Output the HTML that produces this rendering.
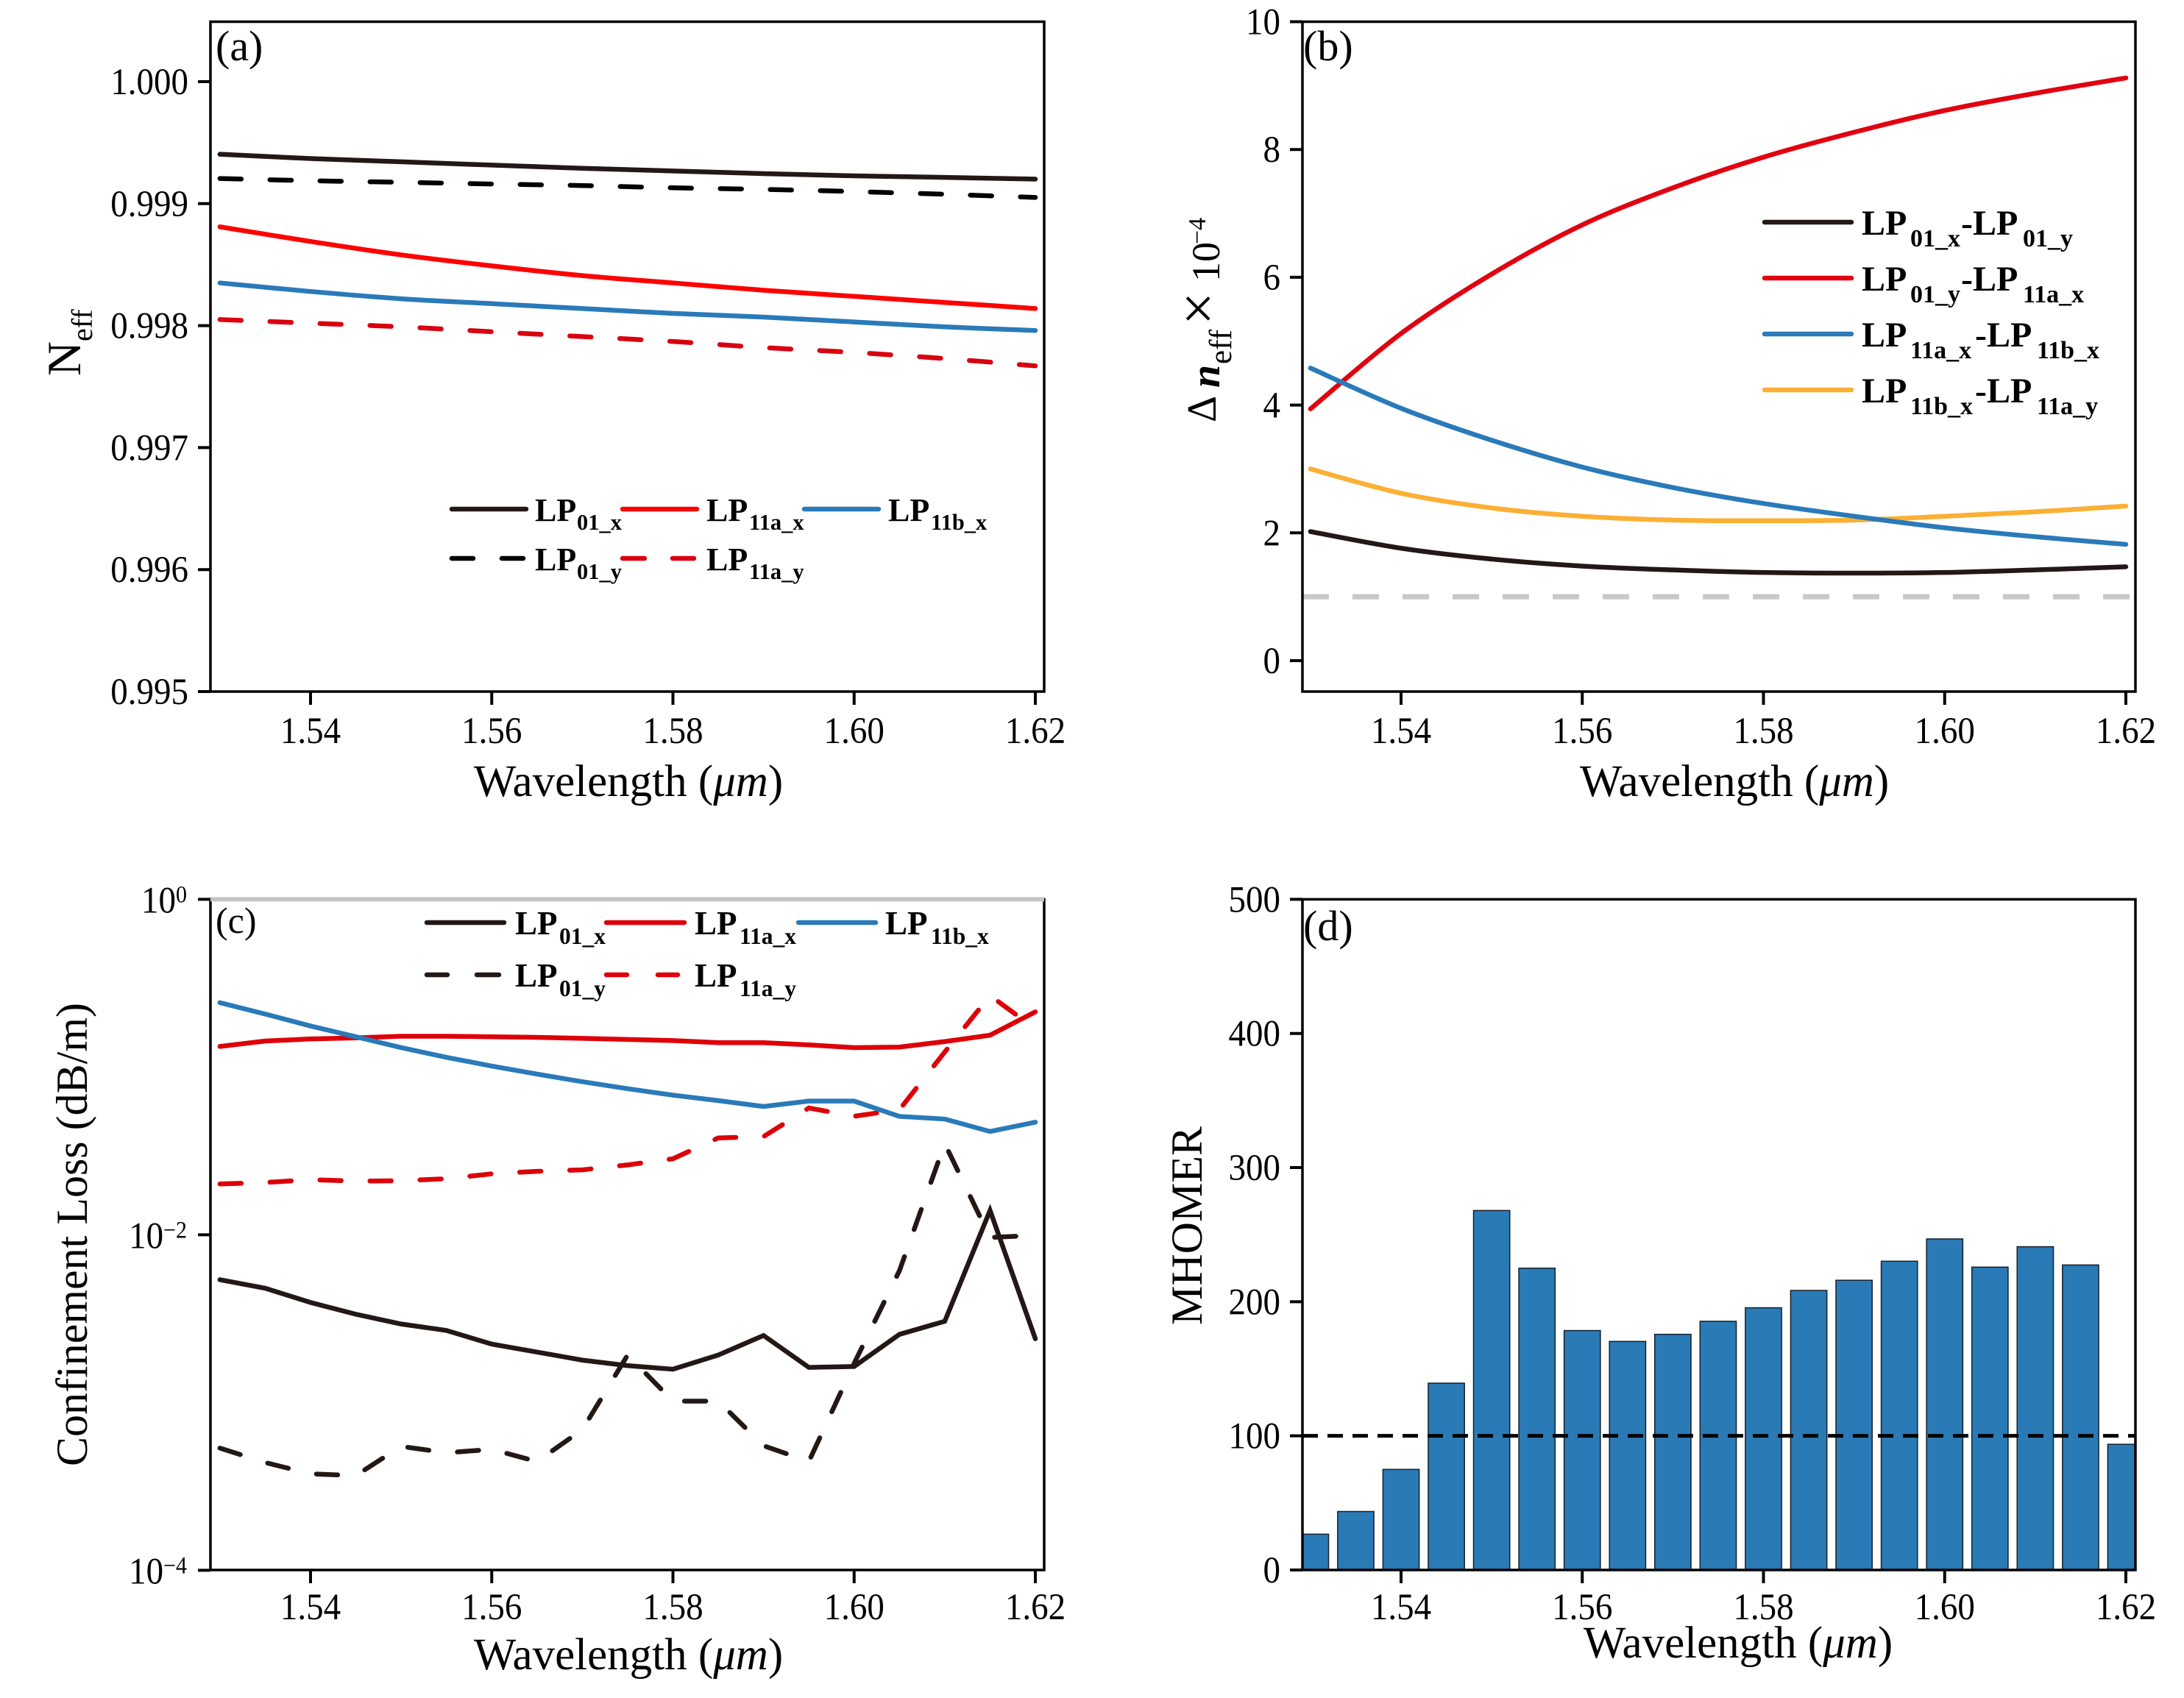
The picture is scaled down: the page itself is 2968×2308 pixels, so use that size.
<!DOCTYPE html>
<html lang="en">
<head>
<meta charset="utf-8">
<title>Fiber mode characteristics versus wavelength</title>
<style>
html,body{margin:0;padding:0;background:#fff;}
svg{display:block;}
text{font-family:"Liberation Serif","DejaVu Serif",serif;fill:#000;}
.leg{font-weight:bold;}
</style>
</head>
<body>
<svg id="chart" xmlns="http://www.w3.org/2000/svg" width="2968" height="2308" viewBox="0 0 2968 2308">
  <rect x="0" y="0" width="2968" height="2308" fill="#ffffff"/>
  <defs>
    <clipPath id="clip-c"><rect x="286" y="1222" width="1132" height="912"/></clipPath>
    <clipPath id="clip-d"><rect x="1770" y="1222" width="1132" height="912"/></clipPath>
  </defs>
  <g id="panel-a"></g>
  <g id="panel-b"></g>
  <g id="panel-c"></g>
  <g id="panel-d"></g>

  <!-- Panel tags -->
  <text x="293" y="82" font-size="58">(a)</text>
  <text x="1771" y="82" font-size="58">(b)</text>
  <text x="293" y="1268" font-size="50">(c)</text>
  <text x="1771" y="1278" font-size="58">(d)</text>

  <!-- Axis titles -->
  <text x="854" y="1082" font-size="61" text-anchor="middle">Wavelength (<tspan font-style="italic">μm</tspan>)</text>
  <text x="2357" y="1082" font-size="61" text-anchor="middle">Wavelength (<tspan font-style="italic">μm</tspan>)</text>
  <text x="854" y="2269" font-size="61" text-anchor="middle">Wavelength (<tspan font-style="italic">μm</tspan>)</text>
  <text x="2362" y="2253" font-size="61" text-anchor="middle">Wavelength (<tspan font-style="italic">μm</tspan>)</text>

  <text transform="translate(109,511) rotate(-90)" font-size="65">N<tspan font-size="40" dy="16">eff</tspan></text>
  <g>
    <text transform="translate(1652,574) rotate(-90)" font-size="56">Δ</text>
    <text transform="translate(1657,527) rotate(-90)" font-size="56" font-weight="bold" font-style="italic">n</text>
    <text transform="translate(1673,495) rotate(-90)" font-size="43">eff</text>
    <text transform="translate(1655,442) rotate(-90)" font-size="80">×</text>
    <text transform="translate(1657,383) rotate(-90)" font-size="54">10</text>
    <text transform="translate(1638,332) rotate(-90)" font-size="34">−4</text>
  </g>
  <text transform="translate(118,1678) rotate(-90)" font-size="60" text-anchor="middle">Confinement Loss (dB/m)</text>
  <text transform="translate(1633,1666) rotate(-90)" font-size="60" text-anchor="middle">MHOMER</text>

  <!-- Legend panel a -->
  <g stroke-width="6.5" stroke-linecap="round" fill="none">
    <line x1="614" y1="692" x2="715" y2="692" stroke="#231815"/>
    <line x1="846" y1="692" x2="947" y2="692" stroke="#ff0000"/>
    <line x1="1093" y1="692" x2="1194" y2="692" stroke="#2a7ab9"/>
    <path d="M614 759H643M682 759H711" stroke="#000000"/>
    <path d="M846 759H876M914 759H943" stroke="#d9000f"/>
    <g stroke="none">
      <text class="leg" x="727" y="708" font-size="44">LP<tspan x="784" y="720" font-size="30.5">01_x</tspan></text>
      <text class="leg" x="960" y="708" font-size="44">LP<tspan x="1018" y="720" font-size="30.5">11a_x</tspan></text>
      <text class="leg" x="1207" y="708" font-size="44">LP<tspan x="1265" y="720" font-size="30.5">11b_x</tspan></text>
      <text class="leg" x="727" y="775" font-size="44">LP<tspan x="784" y="787" font-size="30.5">01_y</tspan></text>
      <text class="leg" x="960" y="775" font-size="44">LP<tspan x="1018" y="787" font-size="30.5">11a_y</tspan></text>
    </g>
  </g>

  <!-- Legend panel b -->
  <g stroke-width="6.5" stroke-linecap="round" fill="none">
    <line x1="2398" y1="302" x2="2516" y2="302" stroke="#231815"/>
    <line x1="2398" y1="378" x2="2516" y2="378" stroke="#e00010"/>
    <line x1="2398" y1="454" x2="2516" y2="454" stroke="#2a7ab9"/>
    <line x1="2398" y1="530" x2="2516" y2="530" stroke="#fbb034"/>
    <g stroke="none">
      <text class="leg" x="2530" y="319" font-size="48">LP<tspan x="2596" y="335" font-size="34">01_x</tspan><tspan x="2665" y="319" font-size="48">-LP</tspan><tspan x="2749" y="335" font-size="34">01_y</tspan></text>
      <text class="leg" x="2530" y="395" font-size="48">LP<tspan x="2596" y="411" font-size="34">01_y</tspan><tspan x="2665" y="395" font-size="48">-LP</tspan><tspan x="2749" y="411" font-size="34">11a_x</tspan></text>
      <text class="leg" x="2530" y="471" font-size="48">LP<tspan x="2596" y="487" font-size="34">11a_x</tspan><tspan x="2684" y="471" font-size="48">-LP</tspan><tspan x="2768" y="487" font-size="34">11b_x</tspan></text>
      <text class="leg" x="2530" y="547" font-size="48">LP<tspan x="2596" y="563" font-size="34">11b_x</tspan><tspan x="2684" y="547" font-size="48">-LP</tspan><tspan x="2768" y="563" font-size="34">11a_y</tspan></text>
    </g>
  </g>

  <!-- Legend panel c -->
  <g stroke-width="6.5" stroke-linecap="round" fill="none">
    <line x1="580" y1="1254" x2="685" y2="1254" stroke="#231815"/>
    <line x1="824" y1="1254" x2="930" y2="1254" stroke="#dd0008"/>
    <line x1="1085" y1="1254" x2="1190" y2="1254" stroke="#2a7ab9"/>
    <path d="M580 1325H608M648 1325H678" stroke="#231815"/>
    <path d="M824 1325H852M894 1325H921" stroke="#dd0008"/>
    <g stroke="none">
      <text class="leg" x="700" y="1270" font-size="45">LP<tspan x="760" y="1283" font-size="31.5">01_x</tspan></text>
      <text class="leg" x="944" y="1270" font-size="45">LP<tspan x="1005" y="1283" font-size="31.5">11a_x</tspan></text>
      <text class="leg" x="1203" y="1270" font-size="45">LP<tspan x="1265" y="1283" font-size="31.5">11b_x</tspan></text>
      <text class="leg" x="700" y="1341" font-size="45">LP<tspan x="760" y="1354" font-size="31.5">01_y</tspan></text>
      <text class="leg" x="944" y="1341" font-size="45">LP<tspan x="1005" y="1354" font-size="31.5">11a_y</tspan></text>
    </g>
  </g>
</svg>

<script>
// Shared categories and tick labels
const coarseWavelengths = [1.53,1.54,1.55,1.56,1.57,1.58,1.59,1.60,1.61,1.62];
const fineWavelengths = [1.53,1.535,1.54,1.545,1.55,1.555,1.56,1.565,1.57,1.575,1.58,1.585,1.59,1.595,1.60,1.605,1.61,1.615,1.62];
const xTicks = [1.54,1.56,1.58,1.60,1.62];

// Panel (a) effective index
const aTicks = [0.995,0.996,0.997,0.998,0.999,1.000];
const aLP01x = [0.999405,0.999370,0.999343,0.999316,0.999290,0.999268,0.999246,0.999228,0.999215,0.999201];
const aLP01y = [0.999206,0.999188,0.999175,0.999161,0.999148,0.999130,0.999117,0.999099,0.999077,0.999051];
const aLP11ax = [0.99881,0.99869,0.99858,0.99849,0.99841,0.99835,0.99829,0.99824,0.99819,0.99814];
const aLP11bx = [0.99835,0.99828,0.99822,0.99818,0.99814,0.99810,0.99807,0.99803,0.99799,0.99796];
const aLP11ay = [0.99805,0.99802,0.99799,0.99795,0.99791,0.99787,0.99782,0.99778,0.99773,0.99767];

// Panel (b) index differences (x 10^-4)
const bTicks = [0,2,4,6,8,10];
const bThreshold = [1];
const bPair1 = [2.02,1.76,1.59,1.48,1.42,1.38,1.37,1.38,1.42,1.47];
const bPair2 = [3.94,5.12,6.05,6.82,7.40,7.88,8.27,8.61,8.88,9.12];
const bPair3 = [4.58,3.95,3.45,3.03,2.71,2.46,2.26,2.08,1.94,1.82];
const bPair4 = [3.00,2.62,2.39,2.26,2.20,2.19,2.20,2.26,2.33,2.42];

// Panel (c) confinement loss
const cTickExponents = [0,-2,-4];
const cThreshold = [1];
const cLP01x = [0.00540,0.00480,0.00395,0.00336,0.00294,0.00269,0.00223,0.00200,0.00179,0.00166,0.00158,0.00192,0.00251,0.00162,0.00164,0.00255,0.00305,0.01397,0.00240];
const cLP01y = [0.000535,0.000439,0.000376,0.000367,0.000548,0.000502,0.000526,0.000445,0.000689,0.00192,0.00102,0.00102,0.000553,0.000445,0.00171,0.00611,0.035,0.00964,0.00993];
const cLP11ax = [0.1327,0.1429,0.1472,0.1493,0.1527,0.1527,0.1516,0.1504,0.1483,0.1461,0.1439,0.1397,0.1397,0.1356,0.1306,0.1316,0.1419,0.1549,0.2133];
const cLP11bx = [0.2421,0.2070,0.1758,0.1516,0.1306,0.1143,0.1014,0.0908,0.0818,0.0743,0.0680,0.0631,0.0582,0.0627,0.0627,0.0508,0.0490,0.0413,0.0469];
const cLP11ay = [0.0201,0.0205,0.0213,0.0209,0.0210,0.0216,0.0231,0.0239,0.0244,0.0261,0.0284,0.0378,0.0385,0.0570,0.0509,0.0557,0.1229,0.2667,0.1694];

// Panel (d) MHOMER
const dTicks = [0,100,200,300,400,500];
const dThreshold = [100];
const dValues = [26.7,43.6,75,139.3,268,225,178.5,170.4,175.7,185.4,195.5,208.4,216,230.2,246.8,225.8,241,227.4,93.7];

const NS = 'http://www.w3.org/2000/svg';

function mk(parent, tag, attrs, content) {
  const el = document.createElementNS(NS, tag);
  for (const k in attrs) el.setAttribute(k, attrs[k]);
  if (content !== undefined) el.textContent = content;
  parent.appendChild(el);
  return el;
}

function linear(d0, d1, r0, r1) {
  return v => r0 + (v - d0) / (d1 - d0) * (r1 - r0);
}

// Axis functions
const xLeft = linear(1.54, 1.62, 422, 1407);
const xRight = linear(1.54, 1.62, 1904, 2889);
const yA = linear(0.995, 1.0, 940, 111);
const yB = linear(0, 10, 898, 29.5);
const yC = v => 1222.4 - Math.log10(v) * 228;
const yD = linear(0, 500, 2134, 1222.4);

function smoothPath(pts) {
  let d = 'M' + pts[0][0].toFixed(2) + ' ' + pts[0][1].toFixed(2);
  for (let i = 0; i < pts.length - 1; i++) {
    const p0 = pts[Math.max(i - 1, 0)], p1 = pts[i], p2 = pts[i + 1], p3 = pts[Math.min(i + 2, pts.length - 1)];
    const c1x = p1[0] + (p2[0] - p0[0]) / 6, c1y = p1[1] + (p2[1] - p0[1]) / 6;
    const c2x = p2[0] - (p3[0] - p1[0]) / 6, c2y = p2[1] - (p3[1] - p1[1]) / 6;
    d += 'C' + c1x.toFixed(2) + ' ' + c1y.toFixed(2) + ' ' + c2x.toFixed(2) + ' ' + c2y.toFixed(2) + ' ' + p2[0].toFixed(2) + ' ' + p2[1].toFixed(2);
  }
  return d;
}

function polyPath(pts) {
  return pts.map((p, i) => (i ? 'L' : 'M') + p[0].toFixed(2) + ' ' + p[1].toFixed(2)).join('');
}

function drawSeries(group, xs, ys, xFn, yFn, color, dashed, smooth, seriesName, width) {
  const pts = xs.map((x, i) => [xFn(x), yFn(ys[i])]);
  const attrs = {
    d: smooth ? smoothPath(pts) : polyPath(pts),
    fill: 'none', stroke: color, 'stroke-width': width || 6.5,
    'stroke-linecap': 'round', 'stroke-linejoin': 'miter'
  };
  if (dashed) attrs['stroke-dasharray'] = '29 39';
  const el = mk(group, 'path', attrs);
  
  
}

function drawXTicks(group, xFn, bottom, labelY) {
  xTicks.forEach(t => {
    const tick = mk(group, 'line', {x1: xFn(t), x2: xFn(t), y1: bottom, y2: bottom + 18, stroke: '#000', 'stroke-width': 4});
    
    
    const label = mk(group, 'text', {transform: 'translate(' + xFn(t) + ',' + labelY + ') scale(1,1.08)', 'font-size': 47, 'text-anchor': 'middle'}, t.toFixed(2));
    
    
  });
}

function drawYTicks(group, ticks, yFn, left, fmt) {
  ticks.forEach(t => {
    const tick = mk(group, 'line', {x1: left - 17, x2: left, y1: yFn(t), y2: yFn(t), stroke: '#000', 'stroke-width': 4});
    
    
    const label = mk(group, 'text', {transform: 'translate(' + (left - 30) + ',' + (yFn(t) + 17) + ') scale(1,1.08)', 'font-size': 47, 'text-anchor': 'end'}, fmt(t));
    
    
  });
}

function drawFrame(group, x, y, w, h) {
  const frame = mk(group, 'rect', {x: x, y: y, width: w, height: h, fill: 'none', stroke: '#000', 'stroke-width': 3.5});
  
  
}

// Panel (a)
const gA = document.getElementById('panel-a');
drawSeries(gA, coarseWavelengths, aLP01x, xLeft, yA, '#231815', false, true, 'line-lp01x');
drawSeries(gA, coarseWavelengths, aLP01y, xLeft, yA, '#000000', true, true, 'line-lp01y');
drawSeries(gA, coarseWavelengths, aLP11ax, xLeft, yA, '#ff0000', false, true, 'line-lp11ax');
drawSeries(gA, coarseWavelengths, aLP11bx, xLeft, yA, '#2a7ab9', false, true, 'line-lp11bx');
drawSeries(gA, coarseWavelengths, aLP11ay, xLeft, yA, '#d9000f', true, true, 'line-lp11ay');
drawFrame(gA, 286, 29.5, 1133, 910.5);
drawXTicks(gA, xLeft, 940, 1010);
drawYTicks(gA, aTicks, yA, 286, t => t.toFixed(3));

// Panel (b)
const gB = document.getElementById('panel-b');
const thresholdB = mk(gB, 'line', {x1: 1770, x2: 2902, y1: yB(bThreshold[0]), y2: yB(bThreshold[0]), stroke: '#c8c8c8', 'stroke-width': 7, 'stroke-dasharray': '36 32'});


drawSeries(gB, coarseWavelengths, bPair2, xRight, yB, '#e00010', false, true, 'line-pair-2');
drawSeries(gB, coarseWavelengths, bPair4, xRight, yB, '#fbb034', false, true, 'line-pair-4');
drawSeries(gB, coarseWavelengths, bPair3, xRight, yB, '#2a7ab9', false, true, 'line-pair-3');
drawSeries(gB, coarseWavelengths, bPair1, xRight, yB, '#231815', false, true, 'line-pair-1');
drawFrame(gB, 1770, 29.5, 1132, 910.5);
drawXTicks(gB, xRight, 940, 1010);
drawYTicks(gB, bTicks, yB, 1770, t => String(t));

// Panel (c)
const gC = document.getElementById('panel-c');
const plotC = mk(gC, 'g', {'clip-path': 'url(#clip-c)'});


drawSeries(plotC, fineWavelengths, cLP11ay, xLeft, yC, '#dd0008', true, false, 'line-lp11ay');
drawSeries(plotC, fineWavelengths, cLP01y, xLeft, yC, '#231815', true, false, 'line-lp01y');
drawSeries(plotC, fineWavelengths, cLP01x, xLeft, yC, '#231815', false, false, 'line-lp01x');
drawSeries(plotC, fineWavelengths, cLP11ax, xLeft, yC, '#dd0008', false, false, 'line-lp11ax');
drawSeries(plotC, fineWavelengths, cLP11bx, xLeft, yC, '#2a7ab9', false, false, 'line-lp11bx');
drawFrame(gC, 286, 1222.4, 1133, 911.6);
const thresholdC = mk(gC, 'line', {x1: 286, x2: 1419, y1: yC(cThreshold[0]), y2: yC(cThreshold[0]), stroke: '#c4c4c4', 'stroke-width': 6});


drawXTicks(gC, xLeft, 2134, 2201);
cTickExponents.forEach(e => {
  const y = yC(Math.pow(10, e));
  const tick = mk(gC, 'line', {x1: 269, x2: 286, y1: y, y2: y, stroke: '#000', 'stroke-width': 4});
  
  
  const sup = e === 0 ? '0' : '−' + Math.abs(e);
  const label = mk(gC, 'text', {transform: 'translate(254,' + (y + 18) + ') scale(1,1.08)', 'font-size': 47, 'text-anchor': 'end'});
  
  
  label.textContent = '10';
  const supEl = mk(label, 'tspan', {dy: -13, 'font-size': 30}, sup);
  
  
});

// Panel (d)
const gD = document.getElementById('panel-d');
const plotD = mk(gD, 'g', {'clip-path': 'url(#clip-d)'});


const barDataWidth = 0.004;
fineWavelengths.forEach((w, i) => {
  const x0 = xRight(w - barDataWidth / 2), x1 = xRight(w + barDataWidth / 2);
  const bar = mk(plotD, 'rect', {x: x0, y: yD(dValues[i]), width: x1 - x0, height: yD(0) - yD(dValues[i]), fill: '#2a7ab5', stroke: '#14202c', 'stroke-width': 1.5});
  
  
});
const thresholdD = mk(gD, 'line', {x1: 1770, x2: 2902, y1: yD(dThreshold[0]), y2: yD(dThreshold[0]), stroke: '#000', 'stroke-width': 5, 'stroke-dasharray': '21 13'});


drawFrame(gD, 1770, 1222.4, 1132, 911.6);
drawXTicks(gD, xRight, 2134, 2201);
drawYTicks(gD, dTicks, yD, 1770, t => String(t));
</script>
</body>
</html>
